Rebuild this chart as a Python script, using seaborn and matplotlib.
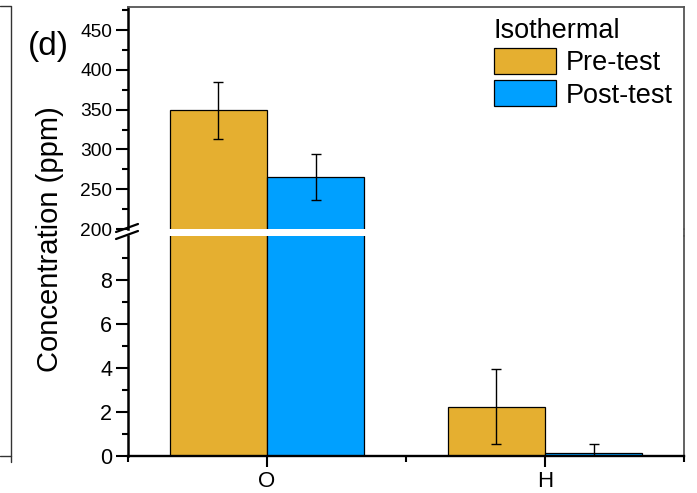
import numpy as np
import pandas as pd
import matplotlib
matplotlib.use("Agg")
import matplotlib.pyplot as plt
import matplotlib.patches as mpatches
from matplotlib.lines import Line2D
import seaborn as sns

# ---- data -------------------------------------------------------------
elements = ["O", "H"]
conditions = ["Pre-test", "Post-test"]
pre_mean = [349.0, 2.25]
pre_err = [36.0, 1.72]
post_mean = [265.0, 0.14]
post_err = [29.0, 0.40]

lower_ticks = [0, 2, 4, 6, 8]
upper_ticks = [200, 250, 300, 350, 400, 450]

colors = ["#E5AF30", "#00A0FF"]

df = pd.DataFrame({
    "Element": elements * 2,
    "Condition": [c for c in conditions for _ in elements],
    "Concentration": pre_mean + post_mean,
    "Error": pre_err + post_err,
})

# ---- style ------------------------------------------------------------
sns.set_theme(style="ticks")
plt.rcParams["font.family"] = ["Liberation Sans", "DejaVu Sans"]
plt.rcParams.update({
    "text.color": "black",
    "axes.labelcolor": "black",
    "xtick.color": "black",
    "ytick.color": "black",
    "xtick.labelcolor": "black",
    "ytick.labelcolor": "black",
})

W, H = 697, 493
fig = plt.figure(figsize=(W / 100, H / 100), dpi=100)
fig.patch.set_facecolor("white")


def fx(px):
    return px / W


def fy(py):
    return 1 - py / H


# broken y axis: lower segment 0-10, upper segment 200-479
ax_lo = fig.add_axes([fx(128), fy(456), fx(684) - fx(128), fy(236) - fy(456)])
ax_hi = fig.add_axes([fx(128), fy(229), fx(684) - fx(128), fy(7) - fy(229)])

for ax in (ax_lo, ax_hi):
    sns.barplot(data=df, x="Element", y="Concentration", hue="Condition",
                order=elements, hue_order=conditions, palette=colors,
                width=0.7, gap=0, saturation=1, edgecolor="black",
                linewidth=0.9, errorbar=None, legend=False, ax=ax)
    # error bars at the centre of every drawn bar
    for cond, cont in zip(conditions, ax.containers):
        sub = df[df["Condition"] == cond].set_index("Element").loc[elements]
        xs = [b.get_x() + b.get_width() / 2 for b in cont]
        ys = [b.get_height() for b in cont]
        ax.errorbar(xs, ys, yerr=sub["Error"].values, fmt="none",
                    ecolor="black", elinewidth=1.0, capsize=3.6,
                    capthick=1.0, zorder=5)
    ax.set_xlim(-0.5, 1.5)
    ax.set_xlabel("")
    ax.set_ylabel("")
    ax.set_facecolor("white")
    ax.spines["left"].set_linewidth(1.8)
    ax.spines["left"].set_color("black")
    ax.spines["right"].set_linewidth(1.3)
    ax.spines["right"].set_color("#555555")
    ax.tick_params(axis="y", which="major", direction="out", length=8.5,
                   width=1.5, color="black", labelcolor="black", pad=3,
                   right=False)
    ax.tick_params(axis="y", which="minor", direction="out", length=4.5,
                   width=1.5, color="black", right=False)

# lower segment
ax_lo.set_ylim(0, 10)
ax_lo.set_yticks(lower_ticks)
ax_lo.set_yticks([1, 3, 5, 7, 9], minor=True)
ax_lo.tick_params(axis="y", labelsize=15.5)
ax_lo.spines["top"].set_visible(False)
ax_lo.spines["bottom"].set_linewidth(1.7)
ax_lo.spines["bottom"].set_color("black")
ax_lo.set_xticks([0, 1], elements)
ax_lo.set_xticks([-0.5, 0.5, 1.5], minor=True)
ax_lo.tick_params(axis="x", which="major", direction="out", length=8,
                  width=1.5, color="black", labelcolor="black",
                  labelsize=16, pad=3, top=False)
ax_lo.tick_params(axis="x", which="minor", direction="out", length=4.5,
                  width=1.5, color="black", top=False)

# upper segment
ax_hi.set_ylim(200, 479)
ax_hi.set_yticks(upper_ticks)
ax_hi.set_yticks([225, 275, 325, 375, 425, 475], minor=True)
ax_hi.tick_params(axis="y", labelsize=13.8)
ax_hi.spines["bottom"].set_visible(False)
ax_hi.spines["top"].set_linewidth(1.3)
ax_hi.spines["top"].set_color("#555555")
ax_hi.tick_params(axis="x", which="both", bottom=False, labelbottom=False,
                  top=False)

# right frame runs through the gap; break marks on the left axis
fig.add_artist(Line2D([fx(684), fx(684)], [fy(229), fy(236)],
                      color="#555555", lw=1.3))
for y0 in (232, 239):
    fig.add_artist(Line2D([fx(116), fx(138)], [fy(y0), fy(y0 - 8)],
                          color="black", lw=1.6))

# legend
handles = [mpatches.Patch(facecolor=c, edgecolor="black", linewidth=0.9,
                          label=l) for c, l in zip(colors, conditions)]
ax_hi.legend(handles=handles, title="Isothermal", loc="upper left",
             bbox_to_anchor=(fx(494), fy(18)), bbox_transform=fig.transFigure,
             frameon=False, fontsize=19.5, title_fontsize=19.5,
             handlelength=2.3, handleheight=1.1, handletextpad=0.35,
             labelspacing=0.15, borderpad=0, borderaxespad=0,
             alignment="left", labelcolor="black")

# axis title and panel tag
fig.text(fx(50), fy(239), "Concentration (ppm)", rotation=90,
         ha="center", va="center", fontsize=21, color="black")
fig.text(fx(28), fy(55), "(d)", fontsize=24, va="baseline", ha="left",
         color="black")

# edge of the neighbouring panel
fig.add_artist(Line2D([fx(0), fx(11), fx(11), fx(0)],
                      [fy(6), fy(6), fy(456), fy(456)],
                      color="#333333", lw=1.0))
fig.add_artist(Line2D([fx(11), fx(11)], [fy(456), fy(462)],
                      color="#333333", lw=1.0))

fig.savefig("out.png", dpi=100, facecolor="white")
